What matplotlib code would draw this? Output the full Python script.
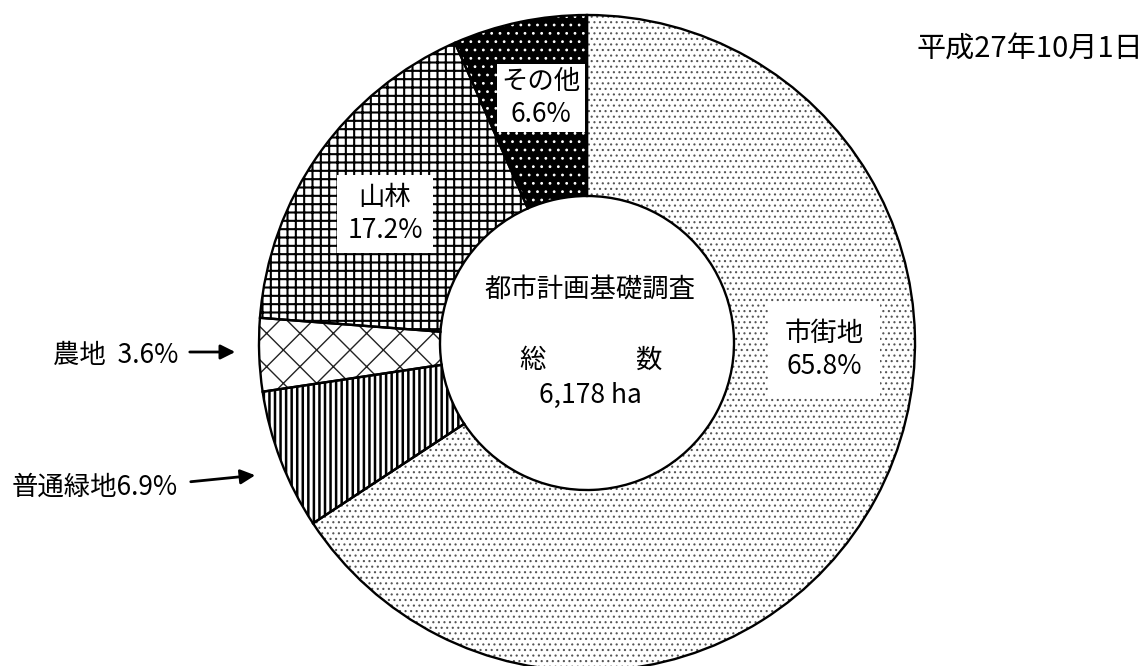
import matplotlib
matplotlib.use("Agg")
import matplotlib.pyplot as plt

plt.rcParams['font.family'] = ['Noto Sans CJK JP', 'DejaVu Sans']
plt.rcParams['hatch.linewidth'] = 1.5

# ---- data ----
categories = ['市街地', '普通緑地', '農地', '山林', 'その他']
shares = [65.8, 6.9, 3.6, 17.2, 6.6]
total_ha = 6178
title_center = '都市計画基礎調査'
date_label = '平成27年10月1日'

faces = ['white', 'white', 'white', 'white', 'black']
hatches = ['...', '|||', 'x', '++', '..']
hatch_colors = ['#555555', 'black', '#222222', 'black', 'white']
hatch_lws = [0.8, 1.8, 1.0, 1.5, 0.8]

W, H = 1148, 666
fig = plt.figure(figsize=(W / 100, H / 100), dpi=100)
ax = fig.add_axes([0, 0, 1, 1])

cx, cy = 587, H - 343
r_out, r_in = 328, 147

# hatch layer
wedges, _ = ax.pie(shares, startangle=90, counterclock=False, center=(cx, cy),
                   radius=r_out, wedgeprops=dict(width=r_out - r_in, linewidth=0))
for w, fc, h, hc, hl in zip(wedges, faces, hatches, hatch_colors, hatch_lws):
    w.set_facecolor(fc)
    w.set_hatch(h)
    w.set_edgecolor(hc)
    w.set_linewidth(0)
    if hasattr(w, 'set_hatch_linewidth'):
        w.set_hatch_linewidth(hl)

# outline layer
ax.pie(shares, startangle=90, counterclock=False, center=(cx, cy),
       radius=r_out, wedgeprops=dict(width=r_out - r_in, facecolor='none',
                                     edgecolor='black', linewidth=1.7))

ax.set_xlim(0, W)
ax.set_ylim(0, H)
ax.set_aspect('equal')
ax.axis('off')

fs = 19

def lab(i):
    return f"{categories[i]}\n{shares[i]}%"

ax.text(824, H - 350, lab(0), ha='center', va='center', fontsize=fs,
        linespacing=1.25, bbox=dict(facecolor='white', edgecolor='none', pad=12))
ax.text(385, H - 214, lab(3), ha='center', va='center', fontsize=fs,
        linespacing=1.25, bbox=dict(facecolor='white', edgecolor='none', pad=7))
ax.text(541, H - 98, lab(4), ha='center', va='center', fontsize=fs,
        linespacing=1.25, bbox=dict(facecolor='white', edgecolor='none', pad=3))

# outside labels with arrows
ax.text(178, H - 355, f"{categories[2]}  {shares[2]}%", ha='right', va='center', fontsize=fs)
ax.annotate('', xy=(238, H - 352), xytext=(187, H - 352),
            arrowprops=dict(arrowstyle='-|>', color='black', lw=2, mutation_scale=22))
ax.text(178, H - 487, f"{categories[1]}{shares[1]}%", ha='right', va='center', fontsize=fs)
ax.annotate('', xy=(258, H - 475), xytext=(188, H - 482),
            arrowprops=dict(arrowstyle='-|>', color='black', lw=2, mutation_scale=22))

# center text
ax.text(cx + 3, H - 290, title_center, ha='center', va='center', fontsize=fs)
ax.text(533, H - 360, '総', ha='center', va='center', fontsize=fs)
ax.text(648, H - 360, '数', ha='center', va='center', fontsize=fs)
ax.text(cx + 3, H - 395, f"{total_ha:,} ha", ha='center', va='center', fontsize=fs)

# date
ax.text(1143, H - 50, date_label, ha='right', va='center', fontsize=21)

fig.savefig('out.png', dpi=100)
